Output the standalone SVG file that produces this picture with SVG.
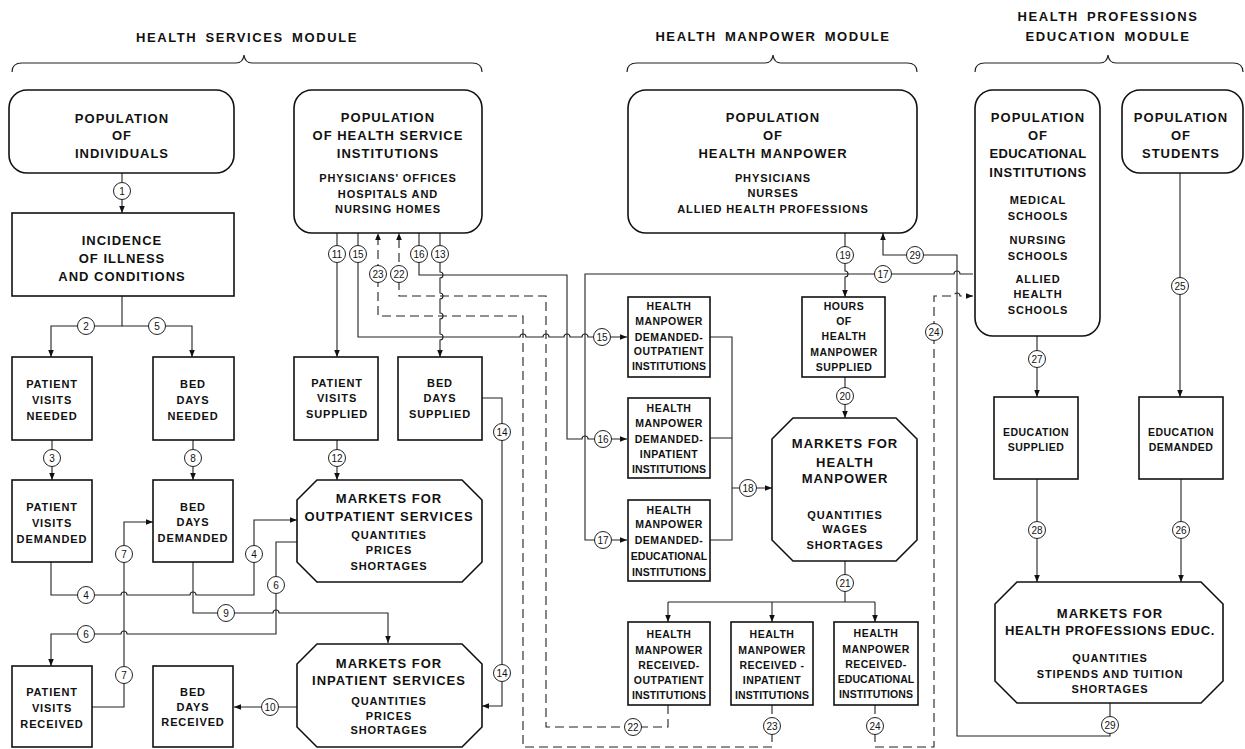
<svg xmlns="http://www.w3.org/2000/svg" width="1245" height="749" viewBox="0 0 1245 749">
<defs>
<style>
text{font-family:"Liberation Sans",Arial,sans-serif;font-weight:bold;fill:#111;text-anchor:middle}
.t{font-size:13px;letter-spacing:1px}
.h{font-size:13px;letter-spacing:1.6px;word-spacing:3px}
.u{font-size:11px;letter-spacing:0.9px}
.v{font-size:10.5px;letter-spacing:0.5px}
.w{letter-spacing:0.1px}
.n{font-size:10px;font-weight:normal;letter-spacing:0}
.b{fill:#fff;stroke:#111;stroke-width:1.6}
.c{fill:none;stroke:#222;stroke-width:1.1}
.d{fill:none;stroke:#222;stroke-width:1.1;stroke-dasharray:9,5}
.ar{marker-end:url(#a)}
.k{fill:#fff;stroke:#222;stroke-width:1}
.br{fill:none;stroke:#222;stroke-width:1.2}
</style>
<marker id="a" viewBox="0 0 10 10" refX="10" refY="5" markerWidth="7" markerHeight="7" orient="auto" markerUnits="userSpaceOnUse"><path d="M0,1 L10,5 L0,9 z" fill="#111"/></marker>
</defs>
<rect width="1245" height="749" fill="#fff"/>

<g id="modules">
<text class="h" x="247" y="42">HEALTH SERVICES MODULE</text>
<path class="br" d="M12,72 Q12,63 22,63 H236 Q243,63 244,55 Q245,63 252,63 H472 Q482,63 482,72"/>
<text class="h" x="773" y="41">HEALTH MANPOWER MODULE</text>
<path class="br" d="M627,72 Q627,63 637,63 H765 Q772,63 773,55 Q774,63 781,63 H907 Q917,63 917,72"/>
<text class="h" x="1108" y="21">HEALTH PROFESSIONS</text>
<text class="h" x="1108" y="41">EDUCATION MODULE</text>
<path class="br" d="M975,72 Q975,63 985,63 H1100 Q1107,63 1108,55 Q1109,63 1116,63 H1233 Q1243,63 1243,72"/>
</g>

<g id="connectors">
<path class="c ar" d="M122,173 V213"/>
<path class="c ar" d="M122,296 V326 H51 V357"/>
<path class="c ar" d="M122,326 H192 V357"/>
<path class="c ar" d="M52,440 V480"/>
<path class="c ar" d="M193,440 V480"/>
<path class="c ar" d="M51,562 V595 H121 a3,3 0 0 1 6,0 H190 a3,3 0 0 1 6,0 H254 V520 H297"/>
<path class="c ar" d="M92,707 H124 V522 H153"/>
<path class="c ar" d="M297,542 H276 V634 H127 a3,3 0 0 0 -6,0 H51 V666"/>
<path class="c ar" d="M193,562 V613 H273 a3,3 0 0 1 6,0 H388 V643"/>
<path class="c ar" d="M297,707 H234"/>
<path class="c ar" d="M337,233 V357"/>
<path class="c ar" d="M337,440 V480"/>
<path class="c ar" d="M440,233 V272 a3,3 0 0 1 0,6 V293 a3,3 0 0 1 0,6 V313 a3,3 0 0 1 0,6 V334 a3,3 0 0 1 0,6 V357"/>
<path class="c ar" d="M482,398 H502 V706 H482"/>
<path class="c ar" d="M358,233 V337 H520 a3,3 0 0 1 6,0 H543 a3,3 0 0 1 6,0 H564 a3,3 0 0 1 6,0 H582 a3,3 0 0 1 6,0 H627"/>
<path class="c ar" d="M419,233 V275 H567 V439 H582 a3,3 0 0 1 6,0 H627"/>
<path class="c ar" d="M973,274 H960 a3,3 0 0 0 -6,0 H585 V540 H627"/>
<path class="c ar" d="M710,337 H732 V540 H710 M710,438 H732 M732,488 H772"/>
<path class="c ar" d="M845,233 V271 a3,3 0 0 1 0,6 V297"/>
<path class="c ar" d="M845,377 V418"/>
<path class="c" d="M845,561 V602 M668,602 H875"/>
<path class="c ar" d="M668,602 V622"/>
<path class="c ar" d="M772,602 V622"/>
<path class="c ar" d="M875,602 V622"/>
<path class="d ar" d="M668,705 V727 H546 V296 H399 V233"/>
<path class="d ar" d="M772,705 V747 H523 V316 H378 V233"/>
<path class="d ar" d="M875,705 V747 H934 V296 H954 a3,3 0 0 1 6,0 H973"/>
<path class="c ar" d="M1180,173 V397"/>
<path class="c ar" d="M1181,479 V582"/>
<path class="c ar" d="M1037,336 V397"/>
<path class="c ar" d="M1037,479 V582"/>
<path class="c ar" d="M1110,703 V736 H957 V255 H883 V233"/>

<g>
<circle class="k" cx="122" cy="191" r="8.5"/><text class="n" x="122" y="194.5">1</text>
<circle class="k" cx="86" cy="326" r="8.5"/><text class="n" x="86" y="329.5">2</text>
<circle class="k" cx="157" cy="326" r="8.5"/><text class="n" x="157" y="329.5">5</text>
<circle class="k" cx="52" cy="458" r="8.5"/><text class="n" x="52" y="461.5">3</text>
<circle class="k" cx="193" cy="458" r="8.5"/><text class="n" x="193" y="461.5">8</text>
<circle class="k" cx="86" cy="595" r="8.5"/><text class="n" x="86" y="598.5">4</text>
<circle class="k" cx="254" cy="554" r="8.5"/><text class="n" x="254" y="557.5">4</text>
<circle class="k" cx="124" cy="554" r="8.5"/><text class="n" x="124" y="557.5">7</text>
<circle class="k" cx="124" cy="675" r="8.5"/><text class="n" x="124" y="678.5">7</text>
<circle class="k" cx="276" cy="585" r="8.5"/><text class="n" x="276" y="588.5">6</text>
<circle class="k" cx="86" cy="634" r="8.5"/><text class="n" x="86" y="637.5">6</text>
<circle class="k" cx="226" cy="613" r="8.5"/><text class="n" x="226" y="616.5">9</text>
<circle class="k" cx="270" cy="707" r="8.5"/><text class="n" x="270" y="710.5">10</text>
<circle class="k" cx="337" cy="254" r="8.5"/><text class="n" x="337" y="257.5">11</text>
<circle class="k" cx="358" cy="254" r="8.5"/><text class="n" x="358" y="257.5">15</text>
<circle class="k" cx="378" cy="274" r="8.5"/><text class="n" x="378" y="277.5">23</text>
<circle class="k" cx="399" cy="274" r="8.5"/><text class="n" x="399" y="277.5">22</text>
<circle class="k" cx="419" cy="254" r="8.5"/><text class="n" x="419" y="257.5">16</text>
<circle class="k" cx="440" cy="254" r="8.5"/><text class="n" x="440" y="257.5">13</text>
<circle class="k" cx="337" cy="458" r="8.5"/><text class="n" x="337" y="461.5">12</text>
<circle class="k" cx="502" cy="432" r="8.5"/><text class="n" x="502" y="435.5">14</text>
<circle class="k" cx="502" cy="673" r="8.5"/><text class="n" x="502" y="676.5">14</text>
<circle class="k" cx="602" cy="337" r="8.5"/><text class="n" x="602" y="340.5">15</text>
<circle class="k" cx="603" cy="439" r="8.5"/><text class="n" x="603" y="442.5">16</text>
<circle class="k" cx="603" cy="540" r="8.5"/><text class="n" x="603" y="543.5">17</text>
<circle class="k" cx="748" cy="488" r="8.5"/><text class="n" x="748" y="491.5">18</text>
<circle class="k" cx="845" cy="255" r="8.5"/><text class="n" x="845" y="258.5">19</text>
<circle class="k" cx="883" cy="274" r="8.5"/><text class="n" x="883" y="277.5">17</text>
<circle class="k" cx="915" cy="255" r="8.5"/><text class="n" x="915" y="258.5">29</text>
<circle class="k" cx="845" cy="396" r="8.5"/><text class="n" x="845" y="399.5">20</text>
<circle class="k" cx="845" cy="583" r="8.5"/><text class="n" x="845" y="586.5">21</text>
<circle class="k" cx="633" cy="727" r="8.5"/><text class="n" x="633" y="730.5">22</text>
<circle class="k" cx="772" cy="726" r="8.5"/><text class="n" x="772" y="729.5">23</text>
<circle class="k" cx="875" cy="726" r="8.5"/><text class="n" x="875" y="729.5">24</text>
<circle class="k" cx="934" cy="332" r="8.5"/><text class="n" x="934" y="335.5">24</text>
<circle class="k" cx="1180" cy="286" r="8.5"/><text class="n" x="1180" y="289.5">25</text>
<circle class="k" cx="1037" cy="359" r="8.5"/><text class="n" x="1037" y="362.5">27</text>
<circle class="k" cx="1037" cy="530" r="8.5"/><text class="n" x="1037" y="533.5">28</text>
<circle class="k" cx="1181" cy="530" r="8.5"/><text class="n" x="1181" y="533.5">26</text>
<circle class="k" cx="1110" cy="725" r="8.5"/><text class="n" x="1110" y="728.5">29</text>
</g>
</g>

<g id="pop-individuals"><rect class="b" x="9" y="90" width="225" height="83" rx="18"/>
<text class="t" x="122" y="123">POPULATION</text><text class="t" x="122" y="140">OF</text><text class="t" x="122" y="158">INDIVIDUALS</text></g>

<g id="incidence"><rect class="b" x="12" y="213" width="222" height="83"/>
<text class="t" x="122" y="245">INCIDENCE</text><text class="t" x="122" y="263">OF ILLNESS</text><text class="t" x="122" y="281">AND CONDITIONS</text></g>

<g id="pv-needed"><rect class="b" x="12" y="357" width="80" height="83"/>
<text class="u" x="52" y="388">PATIENT</text><text class="u" x="52" y="404">VISITS</text><text class="u" x="52" y="420">NEEDED</text></g>

<g id="bd-needed"><rect class="b" x="153" y="357" width="81" height="83"/>
<text class="u" x="193" y="388">BED</text><text class="u" x="193" y="404">DAYS</text><text class="u" x="193" y="420">NEEDED</text></g>

<g id="pv-demanded"><rect class="b" x="12" y="480" width="80" height="82"/>
<text class="u" x="52" y="511">PATIENT</text><text class="u" x="52" y="527">VISITS</text><text class="u" x="52" y="543">DEMANDED</text></g>

<g id="bd-demanded"><rect class="b" x="153" y="480" width="80" height="82"/>
<text class="u" x="193" y="511">BED</text><text class="u" x="193" y="526">DAYS</text><text class="u" x="193" y="542">DEMANDED</text></g>

<g id="pv-received"><rect class="b" x="12" y="666" width="80" height="81"/>
<text class="u" x="52" y="696">PATIENT</text><text class="u" x="52" y="712">VISITS</text><text class="u" x="52" y="728">RECEIVED</text></g>

<g id="bd-received"><rect class="b" x="153" y="666" width="80" height="81"/>
<text class="u" x="193" y="696">BED</text><text class="u" x="193" y="711">DAYS</text><text class="u" x="193" y="726">RECEIVED</text></g>

<g id="pop-hsi"><rect class="b" x="294" y="90" width="188" height="143" rx="18"/>
<text class="t" x="388" y="122">POPULATION</text><text class="t" x="388" y="140">OF HEALTH SERVICE</text><text class="t" x="388" y="158">INSTITUTIONS</text>
<text class="u" x="388" y="182">PHYSICIANS' OFFICES</text><text class="u" x="388" y="198">HOSPITALS AND</text><text class="u" x="388" y="213">NURSING HOMES</text></g>

<g id="pv-supplied"><rect class="b" x="294" y="357" width="84" height="83"/>
<text class="u" x="337" y="387">PATIENT</text><text class="u" x="337" y="402">VISITS</text><text class="u" x="337" y="418">SUPPLIED</text></g>

<g id="bd-supplied"><rect class="b" x="398" y="357" width="84" height="83"/>
<text class="u" x="440" y="387">BED</text><text class="u" x="440" y="402">DAYS</text><text class="u" x="440" y="418">SUPPLIED</text></g>

<g id="mkt-outpatient"><path class="b" d="M317,480 H462 L482,500 V562 L462,582 H317 L297,562 V500 Z"/>
<text class="t" x="389" y="503">MARKETS FOR</text><text class="t" x="389" y="521">OUTPATIENT SERVICES</text>
<text class="u" x="389" y="539">QUANTITIES</text><text class="u" x="389" y="554">PRICES</text><text class="u" x="389" y="570">SHORTAGES</text></g>

<g id="mkt-inpatient"><path class="b" d="M317,644 H462 L482,664 V727 L462,747 H317 L297,727 V664 Z"/>
<text class="t" x="389" y="668">MARKETS FOR</text><text class="t" x="389" y="685">INPATIENT SERVICES</text>
<text class="u" x="389" y="705">QUANTITIES</text><text class="u" x="389" y="720">PRICES</text><text class="u" x="389" y="734">SHORTAGES</text></g>

<g id="pop-hm"><rect class="b" x="628" y="90" width="289" height="143" rx="18"/>
<text class="t" x="773" y="122">POPULATION</text><text class="t" x="773" y="140">OF</text><text class="t" x="773" y="158">HEALTH MANPOWER</text>
<text class="u" x="773" y="182">PHYSICIANS</text><text class="u" x="773" y="197">NURSES</text><text class="u" x="773" y="213">ALLIED HEALTH PROFESSIONS</text></g>

<g id="hmd-out"><rect class="b" x="628" y="297" width="82" height="80"/>
<text class="v" x="669" y="310">HEALTH</text><text class="v" x="669" y="325">MANPOWER</text><text class="v" x="669" y="341">DEMANDED-</text><text class="v" x="669" y="355">OUTPATIENT</text><text class="v w" x="669" y="370">INSTITUTIONS</text></g>

<g id="hmd-in"><rect class="b" x="628" y="398" width="82" height="80"/>
<text class="v" x="669" y="412">HEALTH</text><text class="v" x="669" y="427">MANPOWER</text><text class="v" x="669" y="443">DEMANDED-</text><text class="v" x="669" y="458">INPATIENT</text><text class="v w" x="669" y="473">INSTITUTIONS</text></g>

<g id="hmd-edu"><rect class="b" x="628" y="500" width="82" height="81"/>
<text class="v" x="669" y="514">HEALTH</text><text class="v" x="669" y="528">MANPOWER</text><text class="v" x="669" y="544">DEMANDED-</text><text class="v w" x="669" y="560">EDUCATIONAL</text><text class="v w" x="669" y="576">INSTITUTIONS</text></g>

<g id="hours-supplied"><rect class="b" x="802" y="297" width="83" height="80"/>
<text class="v" x="844" y="310">HOURS</text><text class="v" x="844" y="325">OF</text><text class="v" x="844" y="340">HEALTH</text><text class="v" x="844" y="356">MANPOWER</text><text class="v" x="844" y="371">SUPPLIED</text></g>

<g id="mkt-manpower"><path class="b" d="M793,418 H896 L917,439 V540 L896,561 H793 L772,540 V439 Z"/>
<text class="t" x="845" y="448">MARKETS FOR</text><text class="t" x="845" y="467">HEALTH</text><text class="t" x="845" y="483">MANPOWER</text>
<text class="u" x="845" y="519">QUANTITIES</text><text class="u" x="845" y="533">WAGES</text><text class="u" x="845" y="549">SHORTAGES</text></g>

<g id="hmr-out"><rect class="b" x="628" y="622" width="82" height="83"/>
<text class="v" x="669" y="638">HEALTH</text><text class="v" x="669" y="654">MANPOWER</text><text class="v" x="669" y="669">RECEIVED-</text><text class="v" x="669" y="684">OUTPATIENT</text><text class="v w" x="669" y="699">INSTITUTIONS</text></g>

<g id="hmr-in"><rect class="b" x="731" y="622" width="82" height="83"/>
<text class="v" x="772" y="638">HEALTH</text><text class="v" x="772" y="654">MANPOWER</text><text class="v" x="772" y="669">RECEIVED -</text><text class="v" x="772" y="684">INPATIENT</text><text class="v w" x="772" y="699">INSTITUTIONS</text></g>

<g id="hmr-edu"><rect class="b" x="834" y="622" width="84" height="83"/>
<text class="v" x="876" y="637">HEALTH</text><text class="v" x="876" y="653">MANPOWER</text><text class="v" x="876" y="668">RECEIVED-</text><text class="v w" x="876" y="683">EDUCATIONAL</text><text class="v w" x="876" y="698">INSTITUTIONS</text></g>

<g id="pop-edu-inst"><rect class="b" x="975" y="90" width="125" height="246" rx="18"/>
<text class="t" x="1038" y="122">POPULATION</text><text class="t" x="1038" y="140">OF</text><text class="t" x="1038" y="158" style="letter-spacing:0.3px">EDUCATIONAL</text><text class="t" x="1038" y="177" style="letter-spacing:0.6px">INSTITUTIONS</text>
<text class="u" x="1038" y="204">MEDICAL</text><text class="u" x="1038" y="220">SCHOOLS</text><text class="u" x="1038" y="244">NURSING</text><text class="u" x="1038" y="260">SCHOOLS</text><text class="u" x="1038" y="283">ALLIED</text><text class="u" x="1038" y="298">HEALTH</text><text class="u" x="1038" y="314">SCHOOLS</text></g>

<g id="pop-students"><rect class="b" x="1122" y="90" width="121" height="83" rx="18"/>
<text class="t" x="1181" y="122">POPULATION</text><text class="t" x="1181" y="140">OF</text><text class="t" x="1181" y="158">STUDENTS</text></g>

<g id="edu-supplied"><rect class="b" x="994" y="397" width="84" height="82"/>
<text class="v" x="1036" y="436">EDUCATION</text><text class="v" x="1036" y="451">SUPPLIED</text></g>

<g id="edu-demanded"><rect class="b" x="1139" y="397" width="84" height="82"/>
<text class="v" x="1181" y="436">EDUCATION</text><text class="v" x="1181" y="451">DEMANDED</text></g>

<g id="mkt-education"><path class="b" d="M1017,582 H1201 L1223,604 V681 L1201,703 H1017 L995,681 V604 Z"/>
<text class="t" x="1110" y="618">MARKETS FOR</text><text class="t" x="1110" y="635" style="letter-spacing:0.7px">HEALTH PROFESSIONS EDUC.</text>
<text class="u" x="1110" y="662">QUANTITIES</text><text class="u" x="1110" y="678">STIPENDS AND TUITION</text><text class="u" x="1110" y="693">SHORTAGES</text></g>
</svg>
